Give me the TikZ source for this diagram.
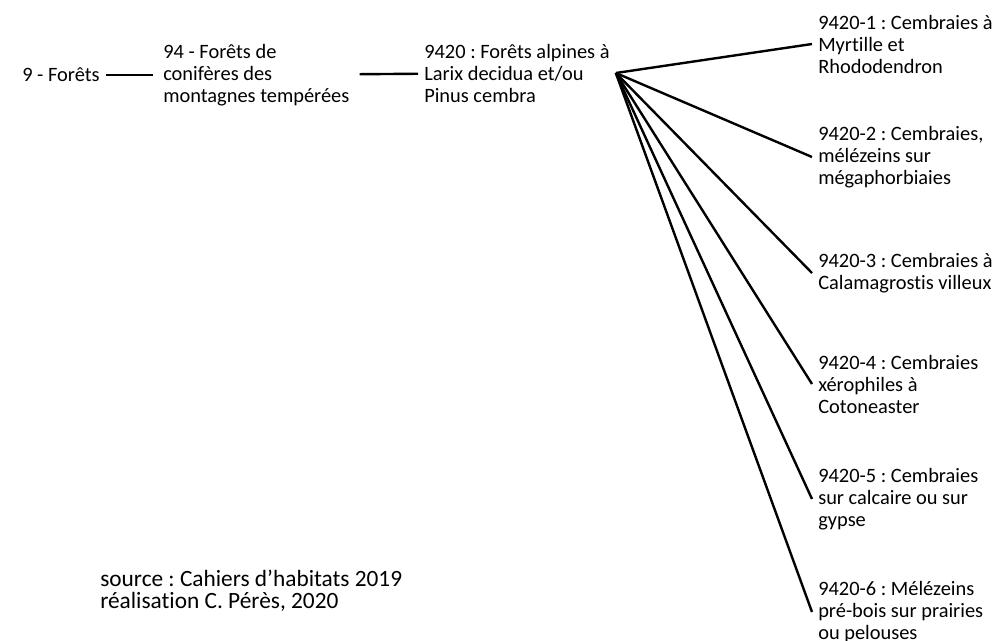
\documentclass[tikz,border=0pt]{standalone}
\usepackage{fontspec}
\setmainfont{Carlito}[Ligatures=NoCommon]
\usepackage{tikz}
\usetikzlibrary{calc}
\frenchspacing
\tikzstyle{hab} = [anchor=west,align=left,inner xsep=4.5pt,inner ysep=2pt,font=\fontsize{15.3}{16.5}\selectfont]
\tikzstyle{src} = [anchor=west,align=left,inner sep=0pt,font=\fontsize{17.5}{16.5}\selectfont]
\tikzstyle{lien} = [line width=1.8pt]

\begin{document}
\begin{tikzpicture}[x=0.75pt,y=-0.75pt]
    \useasboundingbox (0,0) rectangle (998,640);

% Draw the hierarchy, left to right
    \node[hab] at (16,75) (foret) {9 - Forêts};
    \node[hab] at (157,75) (conif) {94 - Forêts de\\conifères des\\montagnes tempérées};
    \node[hab] at (418,73) (alpin) {9420 : Forêts alpines à\\Larix decidua et/ou\\Pinus cembra};
    \draw[lien, shorten >=3pt] (foret) -- (conif);
    \draw[lien, shorten <=3pt] (conif) -- (alpin);

% Sub-habitats
    \node[hab] at (812,44) (sub1) {9420-1 : Cembraies à\\Myrtille et\\Rhododendron};
    \node[hab] at (812,157) (sub2) {9420-2 : Cembraies,\\mélézeins sur\\mégaphorbiaies};
    \node[hab] at (812,273) (sub3) {9420-3 : Cembraies à\\Calamagrostis villeux};
    \node[hab] at (812,384) (sub4) {9420-4 : Cembraies\\xérophiles à\\Cotoneaster};
    \node[hab] at (812,499) (sub5) {9420-5 : Cembraies\\sur calcaire ou sur\\gypse};
    \node[hab] at (812,612) (sub6) {9420-6 : Mélézeins\\pré-bois sur prairies\\ou pelouses};
    \draw[lien] (alpin.east) -- (sub1.west);
    \draw[lien] (alpin.east) -- (sub2.west);
    \draw[lien] (alpin.east) -- (sub3.west);
    \draw[lien] (alpin.east) -- (sub4.west);
    \draw[lien] (alpin.east) -- (sub5.west);
    \draw[lien] (alpin.east) -- (sub6.west);

% Source
    \node[src] at (100,591) (source) {source : Cahiers d’habitats 2019\\réalisation C. Pérès, 2020};

\end{tikzpicture}
\end{document}
